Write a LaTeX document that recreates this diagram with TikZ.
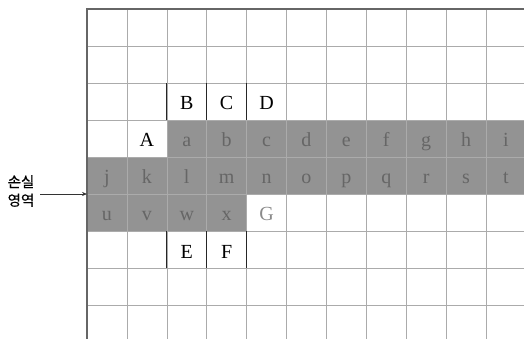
\documentclass[tikz,border=0pt]{standalone}
\usepackage{fontspec}
\setmainfont{Liberation Serif}
\newfontfamily\krfont[FakeBold=0.6]{Noto Sans CJK KR}
\usetikzlibrary{arrows.meta}
\definecolor{cellgray}{HTML}{939393}
\definecolor{lettergray}{HTML}{666666}
\definecolor{gletter}{HTML}{8A8A8A}
\definecolor{gridgray}{HTML}{ABABAB}
\definecolor{bordergray}{HTML}{666666}
\tikzset{
  gridline/.style={draw=gridgray, line width=0.6pt},
  borderline/.style={draw=bordergray, line width=1.3pt},
  sepline/.style={draw=black!85, line width=0.9pt},
  capletter/.style={anchor=base, inner sep=0pt, font=\fontsize{20}{20}\selectfont, text=black},
  grayletter/.style={anchor=base, inner sep=0pt, font=\fontsize{20}{20}\selectfont, text=lettergray},
  glabel/.style={anchor=base, inner sep=0pt, font=\fontsize{20}{20}\selectfont, text=gletter},
  losslabel/.style={align=center, inner sep=0pt, font=\krfont\fontsize{14.5}{18.5}\selectfont},
  lossarrow/.style={draw=black!80, line width=0.7pt, -{Stealth[length=5pt,width=4pt]}}
}
\newcommand{\cx}[1]{87+39.9*(#1+0.5)}
\begin{document}
\begin{tikzpicture}[x=1pt,y=-1pt]
\useasboundingbox (0,0) rectangle (524,338);
\begin{scope}
\clip (0,0) rectangle (524,338);
% gray cells
\fill[cellgray] (167,120) rectangle (530,157);
\fill[cellgray] (87,157) rectangle (530,194);
\fill[cellgray] (87,194) rectangle (247,231);
% grid
\foreach \i in {1,...,11} \draw[gridline] ({87+39.9*\i},9) -- ({87+39.9*\i},345);
\foreach \j in {1,...,9} \draw[gridline] (87,{9+37*\j}) -- (530,{9+37*\j});
% borders
\draw[borderline] (87,345) -- (87,9) -- (530,9);
% separators
\foreach \xx in {167,207,247} {
  \draw[sepline] ({\xx-0.2},83) -- ({\xx-0.2},120);
  \draw[sepline] ({\xx-0.2},231) -- ({\xx-0.2},268);
}
\end{scope}
% letters
\node[capletter] (B) at ({\cx{2}},109) {B};
\node[capletter] (C) at ({\cx{3}},109) {C};
\node[capletter] (D) at ({\cx{4}},109) {D};
\node[capletter] (A) at ({\cx{1}},146) {A};
\foreach \ch [count=\k from 2] in {a,b,c,d,e,f,g,h,i}
  \node[grayletter] (r4-\ch) at ({\cx{\k}},146) {\ch};
\foreach \ch [count=\k from 0] in {j,k,l,m,n,o,p,q,r,s,t}
  \node[grayletter] (r5-\ch) at ({\cx{\k}},183) {\ch};
\foreach \ch [count=\k from 0] in {u,v,w,x}
  \node[grayletter] (r6-\ch) at ({\cx{\k}},220) {\ch};
\node[glabel] (G) at ({\cx{4}},220) {G};
\node[capletter] (E) at ({\cx{2}},258) {E};
\node[capletter] (F) at ({\cx{3}},258) {F};
% loss region label and arrow
\node[losslabel] (loss) at (21,191) {손실\\영역};
\coordinate (arrowtail) at (40,194);
\coordinate (gridedge) at (87,194);
\draw[lossarrow] (arrowtail) -- (gridedge);
\end{tikzpicture}
\end{document}
